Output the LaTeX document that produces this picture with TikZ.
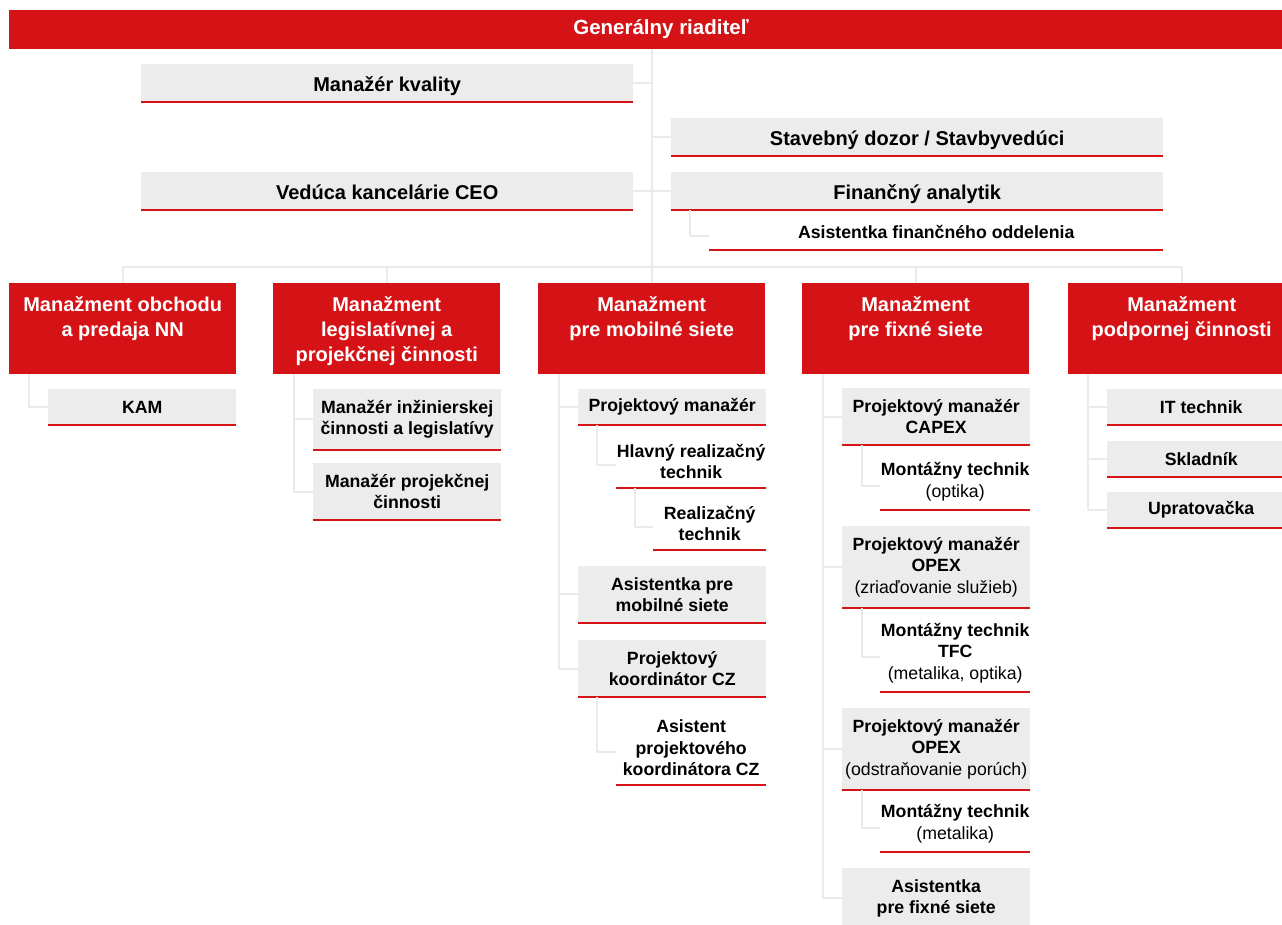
\documentclass[tikz,border=0pt]{standalone}
\usepackage{fontspec}
\setmainfont{Liberation Sans}
\usepackage{tikz}
\definecolor{hred}{RGB}{213,19,23}
\definecolor{hgray}{RGB}{236,236,236}
\definecolor{hline}{RGB}{234,234,234}
\newcommand{\depttext}[1]{\parbox[c][91pt][t]{227pt}{\centering\vspace*{10.5pt}\strut#1}}

\begin{document}
\begin{tikzpicture}[x=1pt, y=-1pt, line join=round,
  conn/.style={draw=hline, line width=2pt},
  uline/.style={append after command={(\tikzlastnode.south west) edge[draw=hred, line width=2pt] (\tikzlastnode.south east)}},
  topbar/.style={fill=hred, text=white, inner sep=0pt, minimum width=1304pt, minimum height=39pt, font=\bfseries\fontsize{20.5}{25}\selectfont},
  bigbox/.style={fill=hgray, uline, anchor=north west, inner xsep=0pt, inner ysep=9pt, text height=16pt, text depth=0pt, minimum height=38pt, minimum width=492pt, align=center, font=\bfseries\fontsize{20}{25}\selectfont},
  smallbox/.style={fill=hgray, uline, anchor=north west, inner xsep=0pt, inner ysep=9pt, minimum height=36pt, minimum width=188pt, align=center, font=\bfseries\fontsize{17.7}{21.5}\selectfont},
  tall/.style={inner ysep=11pt},
  plainbox/.style={smallbox, fill=none, anchor=south west},
  dept/.style={fill=hred, text=white, anchor=north west, inner sep=0pt, minimum width=227pt, minimum height=91pt, font=\bfseries\fontsize{20}{25}\selectfont}]
\useasboundingbox (0,0) rectangle (1282,924);

\node[topbar] (gr) at (661,29.5) {Generálny riaditeľ};
\coordinate (bus) at (651.5,267);

\node[bigbox] (kval) at (141,64) {Manažér kvality};
\node[bigbox] (stav) at (671,118) {Stavebný dozor / Stavbyvedúci};
\node[bigbox] (ved) at (141,172) {Vedúca kancelárie CEO};
\node[bigbox] (fin) at (671,172) {Finančný analytik};
\node[plainbox, minimum width=454pt] (asfin) at (709,250) {Asistentka finančného oddelenia};

\node[dept] (d1) at (9,283) {\depttext{Manažment obchodu\\a predaja NN}};
\node[dept] (d2) at (273,283) {\depttext{Manažment\\legislatívnej a\\projekčnej činnosti}};
\node[dept] (d3) at (538,283) {\depttext{Manažment\\pre mobilné siete}};
\node[dept] (d4) at (802,283) {\depttext{Manažment\\pre fixné siete}};
\node[dept] (d5) at (1068,283) {\depttext{Manažment\\podpornej činnosti}};

\node[smallbox] (kam) at (48,389) {KAM};

\node[smallbox, tall] (inz) at (313,389) {Manažér inžinierskej\\činnosti a legislatívy};
\node[smallbox, tall] (proj) at (313,463) {Manažér projekčnej\\činnosti};

\node[smallbox] (pm) at (578,389) {Projektový manažér};
\node[plainbox, minimum width=150pt] (hlav) at (616,488) {Hlavný realizačný\\technik};
\node[plainbox, minimum width=113pt] (real) at (653,550) {Realizačný\\technik};
\node[smallbox, tall] (asm) at (578,566) {Asistentka pre\\mobilné siete};
\node[smallbox, tall] (koord) at (578,640) {Projektový\\koordinátor CZ};
\node[plainbox, minimum width=150pt] (askoord) at (616,785) {Asistent\\projektového\\koordinátora CZ};

\node[smallbox, tall] (capex) at (842,388) {Projektový manažér\\CAPEX};
\node[plainbox, minimum width=150pt] (mont1) at (880,510) {Montážny technik\\{\mdseries (optika)}};
\node[smallbox, tall] (opex1) at (842,526) {Projektový manažér\\OPEX\\{\mdseries (zriaďovanie služieb)}};
\node[plainbox, minimum width=150pt] (mont2) at (880,692) {Montážny technik\\TFC\\{\mdseries (metalika, optika)}};
\node[smallbox, tall] (opex2) at (842,708) {Projektový manažér\\OPEX\\{\mdseries (odstraňovanie porúch)}};
\node[plainbox, minimum width=150pt] (mont3) at (880,852) {Montážny technik\\{\mdseries (metalika)}};
\node[smallbox, tall] (asfix) at (842,868) {Asistentka\\pre fixné siete};

\node[smallbox] (it) at (1107,389) {IT technik};
\node[smallbox] (sklad) at (1107,441) {Skladník};
\node[smallbox] (uprat) at (1107,492) {Upratovačka};

\draw[conn] (bus |- gr.south) -- (bus);
\draw[conn] (kval.east) -- (kval.east -| bus);
\draw[conn] (ved.east) -- (ved.east -| bus);
\draw[conn] (stav.west) -- (stav.west -| bus);
\draw[conn] (fin.west) -- (fin.west -| bus);
\draw[conn] ([xshift=19pt]fin.south west) |- ([yshift=-4pt]asfin.west);

\draw[conn] (d1.north |- bus) -- (d5.north |- bus);
\foreach \d in {d1,d2,d3,d4,d5}
  \draw[conn] (\d.north) -- (\d.north |- bus);

\coordinate (t1) at ([xshift=20pt]d1.south west);
\coordinate (t2) at ([xshift=21pt]d2.south west);
\coordinate (t3) at ([xshift=21pt]d3.south west);
\coordinate (t4) at ([xshift=21pt]d4.south west);
\coordinate (t5) at ([xshift=20pt]d5.south west);

\draw[conn] (t1) |- (kam.west);

\draw[conn] (t2) |- (proj.west);
\draw[conn] (inz.west) -- (inz.west -| t2);

\draw[conn] (t3) |- (koord.west);
\foreach \n in {pm,asm}
  \draw[conn] (\n.west) -- (\n.west -| t3);
\draw[conn] ([xshift=19pt]pm.south west) |- ([yshift=-4pt]hlav.west);
\draw[conn] ([xshift=19pt]hlav.south west) |- ([yshift=-4pt]real.west);
\draw[conn] ([xshift=19pt]koord.south west) |- ([yshift=-4pt]askoord.west);

\draw[conn] (t4) |- (asfix.west);
\foreach \n in {capex,opex1,opex2}
  \draw[conn] (\n.west) -- (\n.west -| t4);
\draw[conn] ([xshift=20pt]capex.south west) |- ([yshift=-4pt]mont1.west);
\draw[conn] ([xshift=20pt]opex1.south west) |- ([yshift=-4pt]mont2.west);
\draw[conn] ([xshift=20pt]opex2.south west) |- ([yshift=-4pt]mont3.west);

\draw[conn] (t5) |- (uprat.west);
\foreach \n in {it,sklad}
  \draw[conn] (\n.west) -- (\n.west -| t5);
\end{tikzpicture}
\end{document}
